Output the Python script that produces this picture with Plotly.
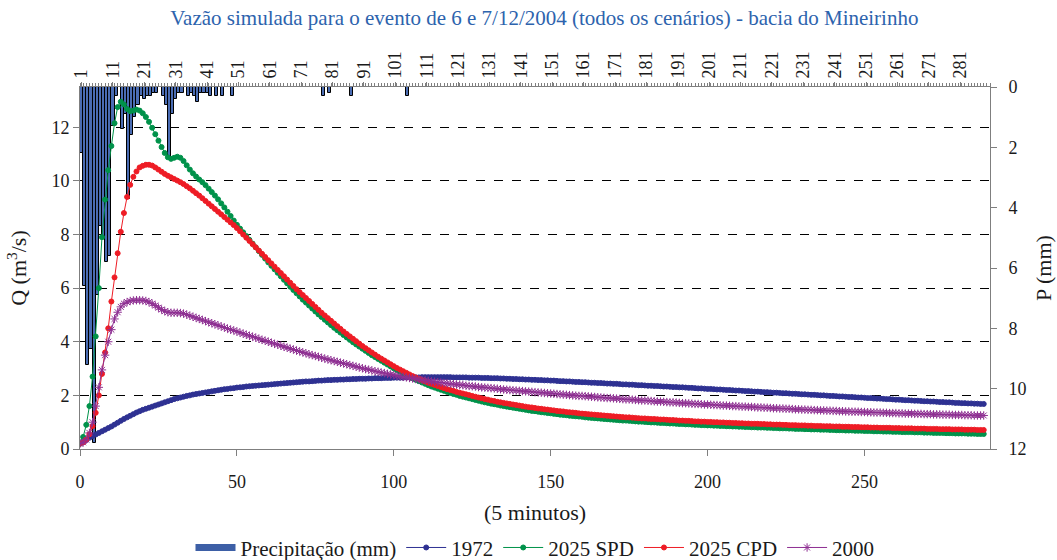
import plotly.graph_objects as go

# ---------------- data ----------------
steps = list(range(0, 289))  # 5-minute steps

q_1972 = [
 0.20, 0.27, 0.34, 0.42, 0.48, 0.54, 0.60, 0.66, 0.72, 0.78,
 0.84, 0.91, 0.98, 1.05, 1.12, 1.18, 1.24, 1.30, 1.36, 1.41,
 1.46, 1.50, 1.54, 1.58, 1.62, 1.66, 1.70, 1.74, 1.78, 1.82,
 1.86, 1.89, 1.92, 1.95, 1.98, 2.00, 2.03, 2.05, 2.07, 2.09,
 2.11, 2.13, 2.15, 2.17, 2.19, 2.21, 2.23, 2.24, 2.26, 2.27,
 2.29, 2.30, 2.31, 2.33, 2.34, 2.35, 2.36, 2.37, 2.38, 2.39,
 2.40, 2.41, 2.42, 2.43, 2.44, 2.45, 2.46, 2.47, 2.48, 2.49,
 2.50, 2.51, 2.52, 2.52, 2.53, 2.54, 2.55, 2.55, 2.56, 2.57,
 2.57, 2.58, 2.58, 2.59, 2.59, 2.60, 2.60, 2.61, 2.61, 2.62,
 2.62, 2.62, 2.63, 2.63, 2.64, 2.64, 2.64, 2.65, 2.65, 2.65,
 2.66, 2.66, 2.66, 2.66, 2.67, 2.67, 2.67, 2.67, 2.67, 2.68,
 2.68, 2.68, 2.68, 2.68, 2.68, 2.68, 2.68, 2.68, 2.68, 2.67,
 2.67, 2.67, 2.67, 2.67, 2.66, 2.66, 2.66, 2.66, 2.65, 2.65,
 2.65, 2.64, 2.64, 2.64, 2.63, 2.63, 2.62, 2.62, 2.61, 2.61,
 2.60, 2.60, 2.59, 2.59, 2.58, 2.58, 2.57, 2.57, 2.56, 2.56,
 2.55, 2.55, 2.54, 2.53, 2.53, 2.52, 2.52, 2.51, 2.50, 2.50,
 2.49, 2.49, 2.48, 2.47, 2.47, 2.46, 2.46, 2.45, 2.44, 2.44,
 2.43, 2.43, 2.42, 2.41, 2.41, 2.40, 2.40, 2.39, 2.38, 2.38,
 2.37, 2.36, 2.36, 2.35, 2.35, 2.34, 2.33, 2.33, 2.32, 2.31,
 2.31, 2.30, 2.30, 2.29, 2.28, 2.28, 2.27, 2.26, 2.26, 2.25,
 2.24, 2.24, 2.23, 2.22, 2.22, 2.21, 2.20, 2.20, 2.19, 2.18,
 2.18, 2.17, 2.16, 2.16, 2.15, 2.14, 2.14, 2.13, 2.12, 2.12,
 2.11, 2.10, 2.10, 2.09, 2.08, 2.08, 2.07, 2.06, 2.06, 2.05,
 2.04, 2.04, 2.03, 2.02, 2.02, 2.01, 2.00, 2.00, 1.99, 1.98,
 1.98, 1.97, 1.96, 1.96, 1.95, 1.94, 1.94, 1.93, 1.92, 1.92,
 1.91, 1.90, 1.90, 1.89, 1.88, 1.88, 1.87, 1.86, 1.86, 1.85,
 1.84, 1.84, 1.83, 1.82, 1.82, 1.81, 1.80, 1.80, 1.79, 1.78,
 1.78, 1.77, 1.77, 1.76, 1.75, 1.75, 1.74, 1.74, 1.73, 1.72,
 1.72, 1.71, 1.71, 1.70, 1.70, 1.69, 1.69, 1.68, 1.68,
]

q_2025_spd = [
 0.20, 0.45, 0.90, 1.60, 2.70, 4.20, 6.00, 7.90, 9.30, 10.40,
 11.30, 12.15, 12.75, 12.95, 12.85, 12.68, 12.60, 12.62, 12.66, 12.62,
 12.52, 12.38, 12.20, 11.98, 11.74, 11.50, 11.26, 11.04, 10.88, 10.82,
 10.86, 10.90, 10.86, 10.74, 10.58, 10.42, 10.28, 10.16, 10.05, 9.95,
 9.84, 9.71, 9.58, 9.45, 9.31, 9.16, 9.01, 8.85, 8.69, 8.52,
 8.36, 8.22, 8.08, 7.94, 7.80, 7.66, 7.52, 7.38, 7.24, 7.10,
 6.96, 6.83, 6.70, 6.57, 6.44, 6.31, 6.18, 6.05, 5.93, 5.81,
 5.69, 5.57, 5.46, 5.35, 5.24, 5.13, 5.02, 4.92, 4.82, 4.72,
 4.62, 4.52, 4.43, 4.34, 4.25, 4.16, 4.07, 3.98, 3.90, 3.82,
 3.74, 3.66, 3.58, 3.50, 3.43, 3.36, 3.29, 3.22, 3.15, 3.08,
 3.01, 2.94, 2.88, 2.82, 2.76, 2.70, 2.64, 2.58, 2.53, 2.48,
 2.43, 2.38, 2.33, 2.29, 2.25, 2.21, 2.17, 2.13, 2.09, 2.05,
 2.02, 1.98, 1.95, 1.92, 1.89, 1.86, 1.83, 1.80, 1.77, 1.74,
 1.72, 1.69, 1.67, 1.65, 1.62, 1.60, 1.58, 1.56, 1.54, 1.52,
 1.50, 1.48, 1.46, 1.44, 1.42, 1.41, 1.39, 1.37, 1.36, 1.34,
 1.33, 1.31, 1.30, 1.28, 1.27, 1.26, 1.24, 1.23, 1.22, 1.21,
 1.20, 1.18, 1.17, 1.16, 1.15, 1.14, 1.13, 1.12, 1.11, 1.10,
 1.09, 1.08, 1.07, 1.06, 1.06, 1.05, 1.04, 1.03, 1.02, 1.02,
 1.01, 1.00, 0.99, 0.99, 0.98, 0.97, 0.97, 0.96, 0.95, 0.95,
 0.94, 0.93, 0.93, 0.92, 0.92, 0.91, 0.90, 0.90, 0.89, 0.89,
 0.88, 0.88, 0.87, 0.87, 0.86, 0.86, 0.85, 0.85, 0.84, 0.84,
 0.83, 0.83, 0.82, 0.82, 0.81, 0.81, 0.80, 0.80, 0.80, 0.79,
 0.79, 0.78, 0.78, 0.77, 0.77, 0.77, 0.76, 0.76, 0.75, 0.75,
 0.75, 0.74, 0.74, 0.73, 0.73, 0.73, 0.72, 0.72, 0.72, 0.71,
 0.71, 0.70, 0.70, 0.70, 0.69, 0.69, 0.69, 0.68, 0.68, 0.68,
 0.67, 0.67, 0.67, 0.66, 0.66, 0.66, 0.65, 0.65, 0.65, 0.64,
 0.64, 0.64, 0.63, 0.63, 0.63, 0.63, 0.62, 0.62, 0.62, 0.61,
 0.61, 0.61, 0.60, 0.60, 0.60, 0.60, 0.59, 0.59, 0.59, 0.58,
 0.58, 0.58, 0.58, 0.57, 0.57, 0.57, 0.56, 0.56, 0.56,
]

q_2025_cpd = [
 0.20, 0.25, 0.35, 0.55, 0.85, 1.35, 2.00, 2.80, 3.60, 4.50,
 5.50, 6.40, 7.30, 8.10, 8.80, 9.40, 9.85, 10.15, 10.35, 10.50,
 10.56, 10.60, 10.60, 10.57, 10.50, 10.42, 10.34, 10.26, 10.19, 10.13,
 10.07, 10.01, 9.95, 9.88, 9.80, 9.72, 9.63, 9.54, 9.45, 9.35,
 9.25, 9.15, 9.05, 8.95, 8.85, 8.75, 8.65, 8.55, 8.45, 8.35,
 8.24, 8.12, 8.00, 7.88, 7.76, 7.64, 7.52, 7.40, 7.28, 7.16,
 7.04, 6.92, 6.80, 6.68, 6.56, 6.44, 6.32, 6.20, 6.08, 5.96,
 5.85, 5.74, 5.63, 5.52, 5.41, 5.30, 5.19, 5.08, 4.98, 4.88,
 4.78, 4.68, 4.58, 4.48, 4.38, 4.29, 4.20, 4.11, 4.02, 3.93,
 3.84, 3.76, 3.68, 3.60, 3.52, 3.44, 3.37, 3.30, 3.23, 3.16,
 3.09, 3.02, 2.96, 2.90, 2.84, 2.78, 2.72, 2.67, 2.62, 2.57,
 2.52, 2.47, 2.43, 2.39, 2.35, 2.31, 2.27, 2.23, 2.20, 2.17,
 2.13, 2.10, 2.07, 2.04, 2.01, 1.98, 1.95, 1.92, 1.89, 1.86,
 1.84, 1.81, 1.79, 1.76, 1.74, 1.72, 1.70, 1.68, 1.66, 1.64,
 1.62, 1.60, 1.58, 1.56, 1.55, 1.53, 1.51, 1.50, 1.48, 1.47,
 1.45, 1.44, 1.42, 1.41, 1.40, 1.38, 1.37, 1.36, 1.35, 1.33,
 1.32, 1.31, 1.30, 1.29, 1.28, 1.27, 1.26, 1.25, 1.24, 1.23,
 1.22, 1.21, 1.20, 1.19, 1.18, 1.18, 1.17, 1.16, 1.15, 1.14,
 1.14, 1.13, 1.12, 1.12, 1.11, 1.10, 1.10, 1.09, 1.08, 1.08,
 1.07, 1.06, 1.06, 1.05, 1.05, 1.04, 1.03, 1.03, 1.02, 1.02,
 1.01, 1.01, 1.00, 1.00, 0.99, 0.99, 0.98, 0.98, 0.97, 0.97,
 0.96, 0.96, 0.95, 0.95, 0.94, 0.94, 0.94, 0.93, 0.93, 0.92,
 0.92, 0.91, 0.91, 0.91, 0.90, 0.90, 0.89, 0.89, 0.89, 0.88,
 0.88, 0.88, 0.87, 0.87, 0.86, 0.86, 0.86, 0.85, 0.85, 0.85,
 0.84, 0.84, 0.84, 0.83, 0.83, 0.83, 0.82, 0.82, 0.82, 0.81,
 0.81, 0.81, 0.80, 0.80, 0.80, 0.79, 0.79, 0.79, 0.79, 0.78,
 0.78, 0.78, 0.77, 0.77, 0.77, 0.77, 0.76, 0.76, 0.76, 0.76,
 0.75, 0.75, 0.75, 0.75, 0.74, 0.74, 0.74, 0.74, 0.73, 0.73,
 0.73, 0.73, 0.72, 0.72, 0.72, 0.72, 0.71, 0.71, 0.71,
]

q_2000 = [
 0.20, 0.25, 0.35, 0.60, 1.00, 1.60, 2.30, 2.95, 3.50, 4.00,
 4.45, 4.85, 5.10, 5.30, 5.42, 5.48, 5.52, 5.54, 5.55, 5.55,
 5.54, 5.52, 5.48, 5.42, 5.35, 5.27, 5.20, 5.14, 5.10, 5.08,
 5.08, 5.08, 5.07, 5.05, 5.01, 4.97, 4.93, 4.89, 4.85, 4.81,
 4.77, 4.73, 4.69, 4.65, 4.61, 4.57, 4.53, 4.49, 4.45, 4.42,
 4.38, 4.34, 4.30, 4.26, 4.22, 4.19, 4.15, 4.11, 4.07, 4.04,
 4.00, 3.96, 3.92, 3.89, 3.85, 3.81, 3.78, 3.74, 3.71, 3.67,
 3.64, 3.60, 3.57, 3.53, 3.50, 3.47, 3.44, 3.40, 3.37, 3.34,
 3.31, 3.28, 3.25, 3.22, 3.19, 3.16, 3.13, 3.10, 3.07, 3.04,
 3.01, 2.98, 2.96, 2.93, 2.90, 2.88, 2.85, 2.83, 2.80, 2.78,
 2.76, 2.73, 2.71, 2.69, 2.67, 2.65, 2.63, 2.61, 2.59, 2.57,
 2.56, 2.54, 2.52, 2.51, 2.49, 2.48, 2.46, 2.45, 2.43, 2.42,
 2.40, 2.39, 2.38, 2.36, 2.35, 2.34, 2.33, 2.31, 2.30, 2.29,
 2.28, 2.27, 2.26, 2.25, 2.23, 2.22, 2.21, 2.20, 2.19, 2.18,
 2.17, 2.16, 2.15, 2.14, 2.13, 2.12, 2.11, 2.10, 2.09, 2.08,
 2.07, 2.06, 2.05, 2.04, 2.03, 2.02, 2.01, 2.00, 1.99, 1.98,
 1.98, 1.97, 1.96, 1.95, 1.94, 1.93, 1.92, 1.91, 1.90, 1.90,
 1.89, 1.88, 1.87, 1.86, 1.85, 1.85, 1.84, 1.83, 1.82, 1.81,
 1.81, 1.80, 1.79, 1.78, 1.77, 1.77, 1.76, 1.75, 1.74, 1.74,
 1.73, 1.72, 1.71, 1.71, 1.70, 1.69, 1.68, 1.68, 1.67, 1.66,
 1.66, 1.65, 1.64, 1.64, 1.63, 1.62, 1.62, 1.61, 1.60, 1.60,
 1.59, 1.58, 1.58, 1.57, 1.57, 1.56, 1.55, 1.55, 1.54, 1.54,
 1.53, 1.52, 1.52, 1.51, 1.51, 1.50, 1.50, 1.49, 1.48, 1.48,
 1.47, 1.47, 1.46, 1.46, 1.45, 1.45, 1.44, 1.44, 1.43, 1.43,
 1.42, 1.42, 1.41, 1.41, 1.40, 1.40, 1.39, 1.39, 1.39, 1.38,
 1.38, 1.37, 1.37, 1.36, 1.36, 1.36, 1.35, 1.35, 1.34, 1.34,
 1.34, 1.33, 1.33, 1.32, 1.32, 1.32, 1.31, 1.31, 1.31, 1.30,
 1.30, 1.30, 1.29, 1.29, 1.29, 1.28, 1.28, 1.28, 1.27, 1.27,
 1.27, 1.27, 1.26, 1.26, 1.26, 1.25, 1.25, 1.25, 1.25,
]

# precipitation (mm) per 5-minute interval (interval number on top axis; only non-zero ones)
precip_interval = [1, 2, 3, 4, 5, 6, 7, 8, 9, 10, 11, 12,
                   14, 15, 16, 17, 18, 19, 20, 21, 22, 23, 24, 25,
                   27, 28, 29, 30, 31, 32, 33, 35, 36, 37, 38, 39, 40, 41, 42,
                   44, 46, 49, 78, 80, 87, 105]
precip_mm = [2.2, 6.6, 9.2, 8.7, 11.8, 6.9, 4.6, 5.0, 5.8, 5.6, 1.3, 0.3,
             1.4, 0.9, 3.7, 1.6, 1.0, 0.6, 0.3, 0.4, 0.3, 0.3, 0.2, 0.2,
             0.3, 0.6, 2.4, 0.9, 0.4, 0.2, 0.2, 0.3, 0.2, 0.3, 0.5, 0.2, 0.2, 0.2, 0.3,
             0.3, 0.3, 0.3, 0.3, 0.2, 0.3, 0.3]

top_ticks = list(range(1, 290, 10))
bottom_ticks = [0, 50, 100, 150, 200, 250]
q_ticks = [0, 2, 4, 6, 8, 10, 12]
p_ticks = [0, 2, 4, 6, 8, 10, 12]

# ---------------- figure ----------------
FONT = "Liberation Serif, Times New Roman, serif"
AXC = "#7f7f7f"
TXT = "#1a1a1a"

fig = go.Figure()

fig.add_trace(go.Bar(
    x=precip_interval, y=precip_mm, name="Precipitação (mm)",
    xaxis="x", yaxis="y", width=1.0, showlegend=False,
    marker=dict(color="#4a6cb3", line=dict(color="#000000", width=1)),
))
# legend entry for the bars (wide rectangle like the original)
fig.add_trace(go.Scatter(
    x=[None], y=[None], name="Precipitação (mm)", xaxis="x", yaxis="y",
    mode="lines", line=dict(color="#3d5fa6", width=7),
))

series = [
    ("1972", q_1972, "#2e3192", "circle", 5),
    ("2025 SPD", q_2025_spd, "#00924a", "circle", 5),
    ("2025 CPD", q_2025_cpd, "#ee1c25", "circle", 5),
    ("2000", q_2000, "#8e2f92", "asterisk-open", 7),
]
for name, vals, col, sym, size in series:
    fig.add_trace(go.Scatter(
        x=steps, y=vals, name=name, xaxis="x2", yaxis="y2",
        mode="lines+markers",
        line=dict(color=col, width=1),
        marker=dict(symbol=sym, size=size, color=col, line=dict(color=col, width=1)),
    ))

fig.update_layout(
    width=1057, height=560,
    margin=dict(l=80, r=67, t=87, b=111, autoexpand=False),
    paper_bgcolor="white", plot_bgcolor="white",
    font=dict(family=FONT, size=18, color=TXT),
    title=dict(text="Vazão simulada para o evento de 6 e 7/12/2004 (todos os cenários) - bacia do Mineirinho",
               x=0.515, xanchor="center", y=0.968, yanchor="middle",
               font=dict(family=FONT, size=21, color="#2d63ad")),
    bargap=0,
    showlegend=True,
    legend=dict(orientation="h", x=0.5, xanchor="center", y=-0.273, yanchor="middle",
                font=dict(family=FONT, size=21, color=TXT), traceorder="normal",
                itemwidth=40),
    xaxis=dict(side="top", range=[0.5, 290.5], tickvals=top_ticks, tickangle=-90,
               showline=True, linecolor=AXC, linewidth=1, ticks="outside", ticklen=4,
               tickcolor=AXC, showgrid=False, zeroline=False, automargin=False,
               minor=dict(dtick=1, tick0=0.5, ticks="outside", ticklen=3, tickcolor=AXC),
               tickfont=dict(size=18)),
    yaxis=dict(side="right", range=[12, 0], tickvals=p_ticks, showline=True, linecolor=AXC,
               linewidth=1, ticks="outside", ticklen=6, tickcolor=AXC, showgrid=False,
               zeroline=False, automargin=False, ticklabelstandoff=8,
               title=dict(text="P (mm)", standoff=10), tickfont=dict(size=18)),
    xaxis2=dict(overlaying="x", side="bottom", range=[0, 290], tickvals=bottom_ticks,
                showline=True, linecolor=AXC, linewidth=1, ticks="outside", ticklen=6,
                tickcolor=AXC, showgrid=False, zeroline=False, automargin=False,
                ticklabelstandoff=10,
                title=dict(text="(5 minutos)", standoff=14), tickfont=dict(size=18)),
    yaxis2=dict(overlaying="y", side="left", range=[0, 13.5], tickvals=q_ticks,
                showline=True, linecolor=AXC, linewidth=1, ticks="outside", ticklen=6,
                tickcolor=AXC, showgrid=True, gridcolor="#000000", gridwidth=1,
                griddash="dash", zeroline=False, automargin=False,
                title=dict(text="Q (m<sup>3</sup>/s)", standoff=18), tickfont=dict(size=18)),
)

fig.write_html("out.html", config={"displayModeBar": False},
               post_script="document.body.style.margin='0';")
